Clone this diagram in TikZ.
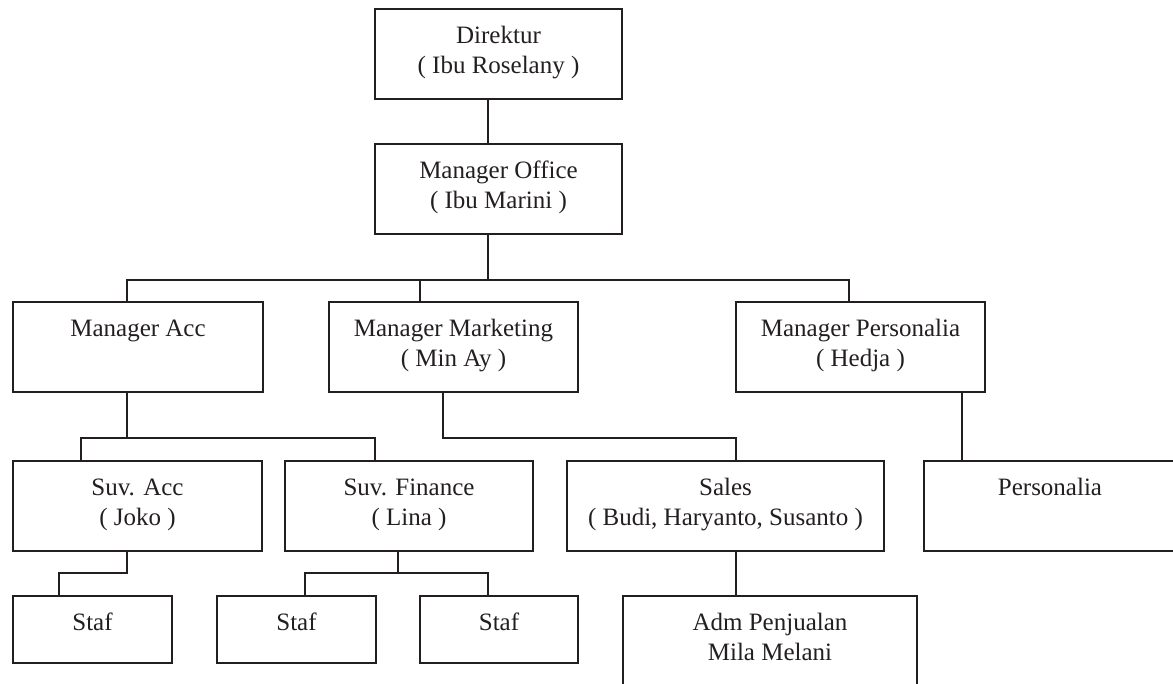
\documentclass[tikz,border=0pt]{standalone}
\usepackage{fontspec}
\setmainfont{Liberation Serif}
\definecolor{ink}{RGB}{35,31,32}
\begin{document}
\begin{tikzpicture}[x=1pt,y=-1pt,
  box/.style={draw=ink, text=ink, line width=2.1pt, inner sep=0pt, align=center,
    font=\fontsize{25}{30}\selectfont},
  bx/.style={box, minimum height=90pt, text height=20pt, text depth=42pt},
  bxx/.style={box, minimum height=90pt, text height=50pt, text depth=12pt},
  sx/.style={box, minimum height=67pt, text height=20pt, text depth=19pt},
  axx/.style={box, minimum height=104pt, text height=50pt, text depth=26pt},
  con/.style={draw=ink, line width=2.1pt}]
\useasboundingbox (0,0) rectangle (1173,683);
% boxes
\node[bxx, minimum width=247pt] (dir) at (498.5,54) {Direktur\\( Ibu Roselany )};
\node[bxx, minimum width=247pt] (off) at (498.5,189) {Manager Office\\( Ibu Marini )};
\node[bx, minimum width=250pt] (macc) at (138,347) {Manager Acc};
\node[bxx, minimum width=249pt] (mmkt) at (453.5,347) {Manager Marketing\\( Min Ay )};
\node[bxx, minimum width=249pt] (mper) at (860.5,347) {Manager Personalia\\( Hedja )};
\node[bxx, minimum width=249pt] (sacc) at (137.5,506) {Suv. Acc\\( Joko )};
\node[bxx, minimum width=248pt] (sfin) at (409,506) {Suv. Finance\\( Lina )};
\node[bxx, minimum width=317pt] (sales) at (725.5,506) {Sales\\( Budi, Haryanto, Susanto )};
\node[bx, minimum width=252pt] (pers) at (1050,506) {Personalia};
\node[sx, minimum width=159pt] (staf1) at (92.5,629.5) {Staf};
\node[sx, minimum width=159pt] (staf2) at (296.5,629.5) {Staf};
\node[sx, minimum width=158pt] (staf3) at (499,629.5) {Staf};
\node[axx, minimum width=294pt] (adm) at (770,648) {Adm Penjualan\\Mila Melani};
% junction points
\coordinate (a0) at (488,280);
\coordinate (a1) at (127,280);
\coordinate (a2) at (420,280);
\coordinate (a3) at (849,280);
\coordinate (b0) at (127,438);
\coordinate (b1) at (81,438);
\coordinate (b2) at (375,438);
\coordinate (c1) at (443,438);
\coordinate (c2) at (736,438);
\coordinate (d0) at (962,438);
\coordinate (e0) at (127,573);
\coordinate (e1) at (59,573);
\coordinate (f0) at (398,573);
\coordinate (f1) at (305,573);
\coordinate (f2) at (488,573);
% connectors
\draw[con] (dir.south -| a0) -- (off.north -| a0);
\draw[con] (off.south -| a0) -- (a0);
\draw[con] (macc.north -| a1) -- (a1) -- (a3) -- (mper.north -| a3);
\draw[con] (a2) -- (mmkt.north -| a2);
\draw[con] (macc.south -| b0) -- (b0);
\draw[con] (sacc.north -| b1) -- (b1) -- (b2) -- (sfin.north -| b2);
\draw[con] (mmkt.south -| c1) -- (c1) -- (c2) -- (sales.north -| c2);
\draw[con] (mper.south -| d0) -- (pers.north -| d0);
\draw[con] (sacc.south -| e0) -- (e0) -- (e1) -- (staf1.north -| e1);
\draw[con] (sfin.south -| f0) -- (f0);
\draw[con] (staf2.north -| f1) -- (f1) -- (f2) -- (staf3.north -| f2);
\draw[con] (sales.south -| c2) -- (adm.north -| c2);
\end{tikzpicture}
\end{document}
